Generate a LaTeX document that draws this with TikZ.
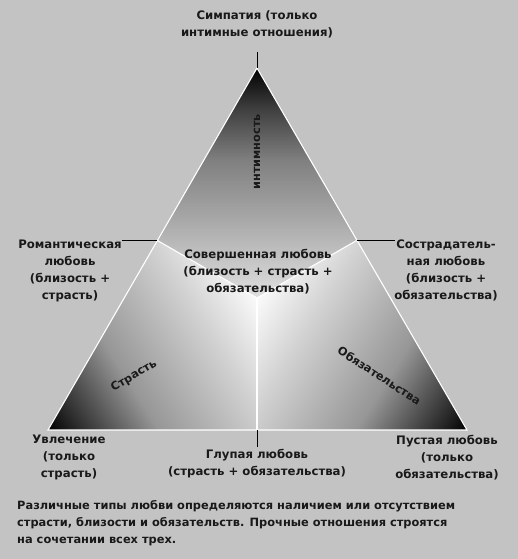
\documentclass[tikz,border=0pt]{standalone}
\usepackage{fontspec}
\setmainfont{DejaVu Sans}
\definecolor{bgc}{RGB}{195,195,195}
\pgfdeclarehorizontalshading{topshade}{100bp}{gray(0bp)=(0); gray(25bp)=(0); gray(34bp)=(0.25); gray(45bp)=(0.5); gray(58bp)=(0.66); gray(75bp)=(0.88); gray(100bp)=(0.88)}
\pgfdeclarehorizontalshading{botshade}{100bp}{gray(0bp)=(0); gray(25bp)=(0); gray(30bp)=(0.16); gray(44bp)=(0.59); gray(63bp)=(0.82); gray(75bp)=(0.98); gray(100bp)=(0.98)}
\begin{document}
\begin{tikzpicture}[x=1pt,y=1pt,
  lab/.style={font=\fontsize{11.7}{17}\selectfont\bfseries, align=center, inner sep=0pt, text=black!90},
  capt/.style={font=\fontsize{11.4}{17}\selectfont\bfseries, align=left, inner sep=0pt, text=black!90},
  side/.style={font=\fontsize{11.3}{13}\selectfont\bfseries, inner sep=0pt, text=black!90},
  wline/.style={white, line width=1.1pt},
  tick/.style={black, line width=1pt}]
\fill[bgc] (0,0) rectangle (518,559);
\useasboundingbox (0,0) rectangle (518,559);
\coordinate (A) at (257,491);
\coordinate (L) at (48,129);
\coordinate (R) at (467,129);
\coordinate (C) at (257,261);
\coordinate (ML) at (157.4,318.5);
\coordinate (MR) at (356.6,318.5);
\coordinate (MB) at (257,129);
% top kite
\begin{scope}
\clip (A) -- (ML) -- (C) -- (MR) -- cycle;
\begin{scope}[transform canvas={shift={(A)}, rotate=-90}]
\shade[shading=topshade] (0,-300) rectangle (230,300);
\end{scope}
\end{scope}
% bottom-left kite
\begin{scope}
\clip (L) -- (MB) -- (C) -- (ML) -- cycle;
\begin{scope}[transform canvas={shift={(L)}, rotate=32.3}]
\shade[shading=botshade] (0,-300) rectangle (247,300);
\end{scope}
\end{scope}
% bottom-right kite
\begin{scope}
\clip (R) -- (MR) -- (C) -- (MB) -- cycle;
\begin{scope}[transform canvas={shift={(R)}, rotate=147.8}]
\shade[shading=botshade] (0,-300) rectangle (248,300);
\end{scope}
\end{scope}
% white lines
\draw[wline, line join=miter] (A) -- (L) -- (R) -- cycle;
\draw[wline] (ML) -- (C) -- (MR);
\draw[wline] (C) -- (MB);
% ticks
\coordinate (tA) at (257,507);
\coordinate (tL) at (122,318.5);
\coordinate (tR) at (395,318.5);
\coordinate (tB) at (257,112);
\draw[tick] (A) -- (tA);
\draw[tick] (ML) -- (tL);
\draw[tick] (MR) -- (tR);
\draw[tick] (MB) -- (tB);
% labels
\node[lab] (top) at (257,534.5) {Симпатия (только\\интимные отношения)};
\node[lab] (rom) at (70,288.5) {Романтическая\\любовь\\(близость +\\страсть)};
\node[lab] (comp) at (446,288.5) {Сострада­тель-\\ная любовь\\(близость +\\обязательства)};
\node[lab] (full) at (258,287) {Совершенная любовь\\(близость + страсть +\\обязательства)};
\node[lab] (infat) at (69,101.5) {Увлечение\\(только\\страсть)};
\node[lab] (fool) at (257,95.5) {Глупая любовь\\(страсть + обязательства)};
\node[lab] (empty) at (447,101.5) {Пустая любовь\\(только\\обязательства)};
\node[capt, anchor=west] (cap) at (17,36) {Различные типы любви определяются наличием или отсутствием\\страсти, близости и обязательств. Прочные отношения строятся\\на сочетании всех трех.};
\node[side, rotate=90] (intim) at (257,407) {интимность};
\node[side, rotate=31] (pass) at (134,183) {Страсть};
\node[side, rotate=-33] (commit) at (379.5,183.5) {Обязательства};
\end{tikzpicture}
\end{document}
